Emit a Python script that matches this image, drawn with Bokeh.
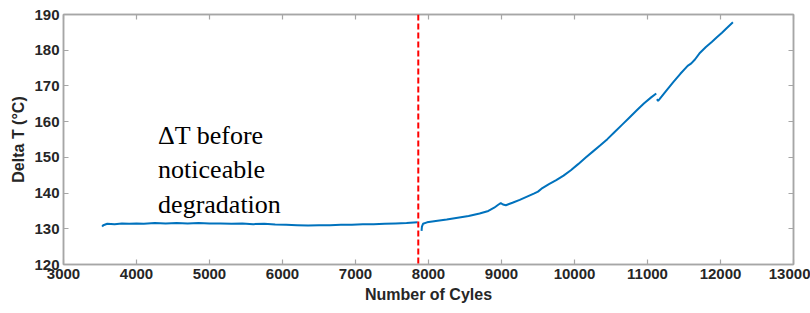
from bokeh.plotting import figure
from bokeh.models import Range1d, LinearAxis, FixedTicker, Span
from bokeh.core.properties import value
from bokeh.embed import file_html
from bokeh.resources import INLINE

# ---- data ----
seg1_cycles = [3530, 3545, 3600, 3700, 3800, 3900, 4000, 4100, 4250, 4400, 4550, 4700,
               4850, 5000, 5150, 5300, 5450, 5600, 5750, 5900, 6050, 6200, 6350, 6500,
               6650, 6800, 6950, 7100, 7250, 7400, 7550, 7700, 7850]
seg1_dt = [130.6, 131.0, 131.4, 131.3, 131.5, 131.4, 131.5, 131.4, 131.6, 131.5, 131.6, 131.5,
           131.6, 131.5, 131.5, 131.4, 131.5, 131.3, 131.4, 131.2, 131.1, 131.0, 130.9, 131.0,
           131.0, 131.1, 131.1, 131.3, 131.3, 131.4, 131.5, 131.6, 131.8]

seg2_cycles = [7905, 7910, 7925, 7980, 8100, 8250, 8400, 8550, 8700, 8820, 8900, 8960, 8990,
               9020, 9060, 9150, 9250, 9350, 9450, 9500, 9560, 9650, 9750, 9850, 9950,
               10050, 10150, 10250, 10350, 10450, 10550, 10650, 10750, 10850, 10950, 11050, 11120]
seg2_dt = [129.4, 130.6, 131.4, 131.8, 132.2, 132.6, 133.1, 133.6, 134.3, 135.0, 135.9, 136.8, 137.2,
           136.8, 136.6, 137.3, 138.1, 139.0, 139.9, 140.4, 141.4, 142.5, 143.6, 144.9, 146.4,
           148.1, 149.9, 151.6, 153.3, 155.1, 157.1, 159.1, 161.1, 163.1, 165.1, 166.8, 167.9]

seg3_cycles = [11130, 11145, 11165, 11250, 11350, 11450, 11550, 11600, 11650, 11720, 11800,
               11880, 11950, 12020, 12080, 12170]
seg3_dt = [166.3, 165.8, 166.3, 168.5, 171.0, 173.4, 175.6, 176.3, 177.4, 179.3, 180.9,
           182.3, 183.6, 184.9, 186.1, 187.8]

threshold_cycle = 7860

x_ticks = [3000, 4000, 5000, 6000, 7000, 8000, 9000, 10000, 11000, 12000, 13000]
y_ticks = [120, 130, 140, 150, 160, 170, 180, 190]

note_lines = ["\u0394T before", "noticeable", "degradation"]
note_x = [4296, 4296, 4296]
note_y = [156.1, 146.5, 136.8]

x_label = "Number of Cyles"
y_label = "Delta T (\u00b0C)"

# ---- styling ----
FRAME = "#a6a6a6"
TXT = "#262626"
BLUE = "#0072BD"

p = figure(width=810, height=313, output_backend="svg", toolbar_location=None,
           x_range=Range1d(3000, 13000), y_range=Range1d(120, 190),
           min_border_left=63, min_border_right=17, min_border_top=14, min_border_bottom=49)
p.xgrid.visible = False
p.ygrid.visible = False
p.outline_line_color = FRAME
p.outline_line_width = 1.5
p.background_fill_color = "white"
p.border_fill_color = "white"

def style_axis(ax, ticks, show_labels):
    ax.ticker = FixedTicker(ticks=ticks)
    ax.axis_line_color = FRAME
    ax.axis_line_width = 1.5
    ax.major_tick_line_color = FRAME
    ax.major_tick_line_width = 1.2
    ax.major_tick_in = 5
    ax.major_tick_out = 0
    ax.minor_tick_line_color = None
    if show_labels:
        ax.major_label_text_font = "Liberation Sans"
        ax.major_label_text_font_style = "bold"
        ax.major_label_text_font_size = "15px"
        ax.major_label_text_color = TXT
        ax.major_label_standoff = 4
        ax.axis_label_text_font = "Liberation Sans"
        ax.axis_label_text_font_style = "bold"
        ax.axis_label_text_font_size = "16px"
        ax.axis_label_text_color = TXT
        ax.axis_label_standoff = 4
    else:
        ax.major_label_overrides = {t: "" for t in ticks}
        ax.major_label_standoff = 0

style_axis(p.xaxis[0], x_ticks, True)
style_axis(p.yaxis[0], y_ticks, True)
p.xaxis[0].axis_label = x_label
p.yaxis[0].axis_label = y_label

top_ax = LinearAxis()
style_axis(top_ax, x_ticks, False)
p.add_layout(top_ax, "above")
right_ax = LinearAxis()
style_axis(right_ax, y_ticks, False)
p.add_layout(right_ax, "right")

for xs, ys in [(seg1_cycles, seg1_dt), (seg2_cycles, seg2_dt), (seg3_cycles, seg3_dt)]:
    p.line(xs, ys, line_color=BLUE, line_width=2)

p.add_layout(Span(location=threshold_cycle, dimension="height", line_color="#ff0000",
                  line_width=2, line_dash="6 3"))

p.text(x=note_x, y=note_y, text=note_lines, text_font=value("Liberation Serif"),
       text_font_size="26px", text_color="#000000", text_baseline="alphabetic",
       text_align="left")

open("out.html", "w").write(file_html(p, INLINE))
